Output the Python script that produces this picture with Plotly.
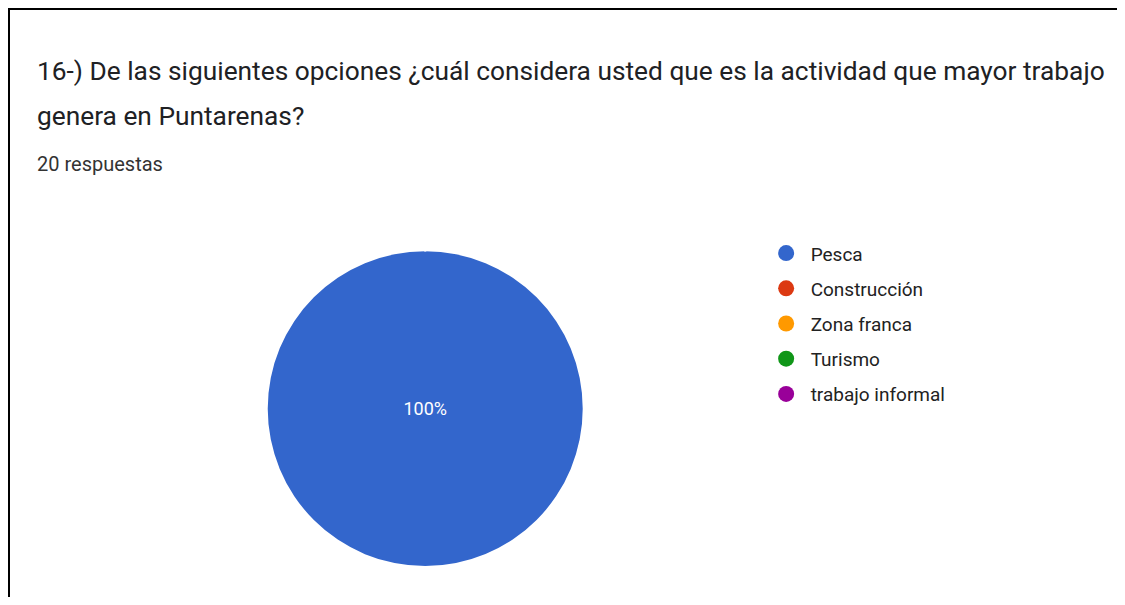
import plotly.graph_objects as go

labels = ["Pesca", "Construcción", "Zona franca", "Turismo", "trabajo informal"]
values = [20, 0, 0, 0, 0]
colors = ["#3366cc", "#dc3912", "#ff9900", "#109618", "#990099"]
title_line1 = "16-) De las siguientes opciones ¿cuál considera usted que es la actividad que mayor trabajo"
title_line2 = "genera en Puntarenas?"
subtitle = "20 respuestas"

# page has an 8px body margin on every side; size the figure so the page does not overflow
OFF = 8
W, H = 1125 - 2 * OFF, 605 - 2 * OFF


def px(x):
    return (x - OFF) / W


def py(y):
    return (H - (y - OFF)) / H


R = 158
fig = go.Figure()
fig.add_trace(go.Pie(
    labels=labels, values=values,
    marker=dict(colors=colors, line=dict(width=0)),
    textinfo="percent", texttemplate="%{percent:.0%}",
    textfont=dict(color="white", size=18, family="Roboto, Arial"),
    insidetextorientation="horizontal",
    sort=False, showlegend=False,
    domain=dict(x=[px(424 - R), px(424 + R)], y=[py(408 + R), py(408 - R)]),
    hoverinfo="label+percent",
))
for i, (lab, col) in enumerate(zip(labels, colors)):
    fig.add_trace(go.Scatter(
        x=[None], y=[None], mode="markers", name=lab,
        marker=dict(color=col, size=18, symbol="circle"),
        legendgroup=f"g{i}", showlegend=True,
    ))

# the card border (left and top) is drawn with the axis lines of the empty plot area
axis_style = dict(showline=True, linecolor="black", linewidth=2, showgrid=False,
                  zeroline=False, showticklabels=False, ticks="", fixedrange=True)

fig.update_layout(
    width=W, height=H,
    margin=dict(l=10 - OFF, r=0, t=10 - OFF, b=0),
    paper_bgcolor="white", plot_bgcolor="white",
    xaxis=dict(side="top", **axis_style),
    yaxis=dict(side="left", **axis_style),
    legend=dict(
        x=px(761), y=py(233), xanchor="left", yanchor="top",
        font=dict(size=19, color="#222222", family="Roboto, Arial"),
        tracegroupgap=7.5, itemwidth=39, bgcolor="rgba(0,0,0,0)",
    ),
    annotations=[
        dict(text=title_line1, x=px(33), y=py(69), xref="paper", yref="paper",
             xanchor="left", yanchor="middle", showarrow=False,
             font=dict(size=26.3, color="#202124", family="Roboto, Arial")),
        dict(text=title_line2, x=px(33), y=py(114), xref="paper", yref="paper",
             xanchor="left", yanchor="middle", showarrow=False,
             font=dict(size=26.3, color="#202124", family="Roboto, Arial")),
        dict(text=subtitle, x=px(33), y=py(163), xref="paper", yref="paper",
             xanchor="left", yanchor="middle", showarrow=False,
             font=dict(size=20, color="#333333", family="Roboto, Arial")),
    ],
)

fig.write_html("out.html")
